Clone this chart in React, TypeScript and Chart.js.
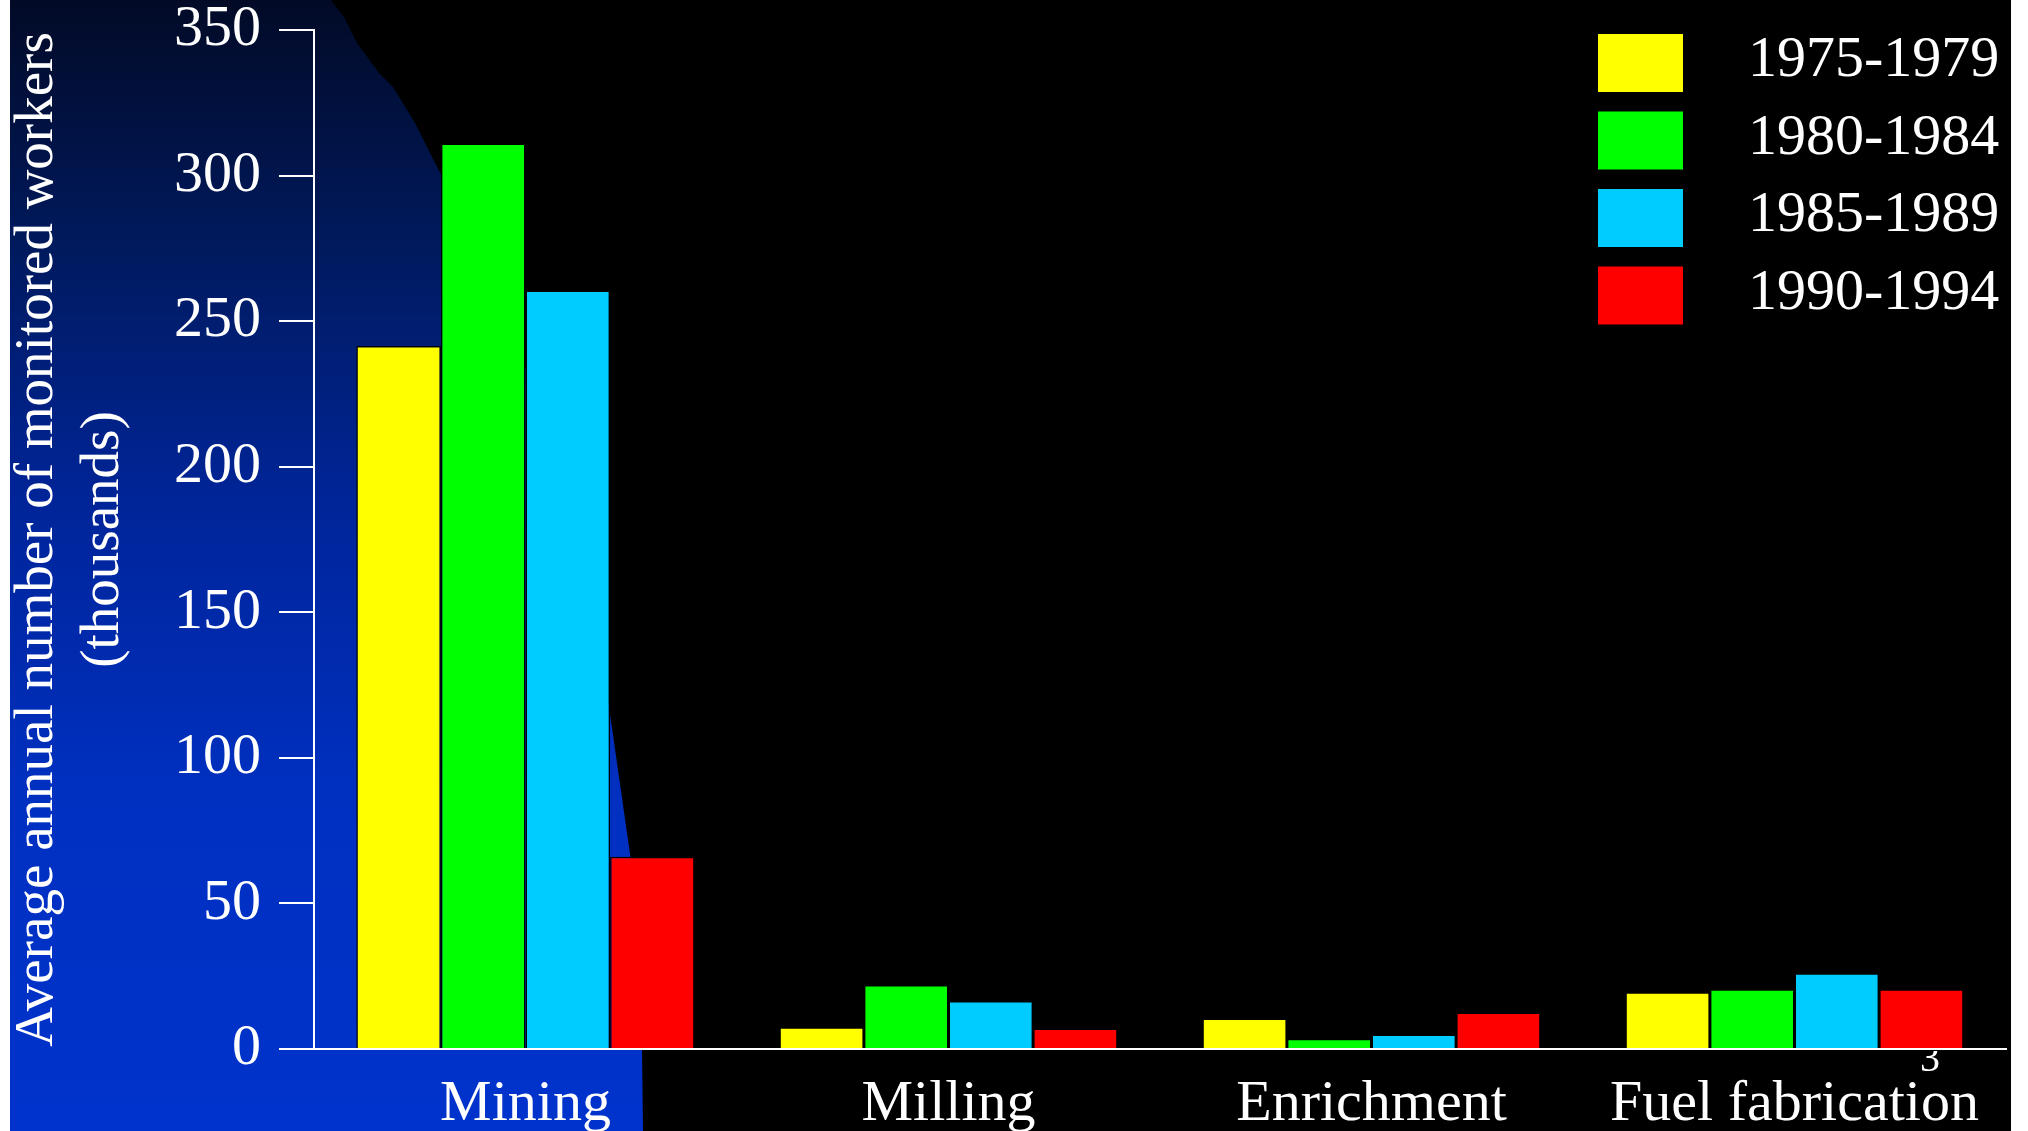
import React, { useEffect, useRef } from "react";
import { Chart, registerables } from "chart.js";

Chart.register(...registerables);

// Fuel-cycle stages along the x axis
const stages = ["Mining", "Milling", "Enrichment", "Fuel fabrication"];

// Five-year periods (one series each)
const periods = ["1975-1979", "1980-1984", "1985-1989", "1990-1994"];
const periodColors = ["#FFFF00", "#00FF00", "#00CCFF", "#FF0000"];

// Average annual number of monitored workers, thousands
const workers1975 = [241.5, 7.5, 10.5, 19.5];
const workers1980 = [311, 22, 3.5, 20.5];
const workers1985 = [260.5, 16.5, 5, 26];
const workers1990 = [66, 7, 12.5, 20.5];

const yTitle = ["Average annual number of monitored workers", "(thousands)"];
const slideNumber = "3";

const SERIF = "'Liberation Serif', 'Times New Roman', serif";

// Slide backdrop: black field with a blue gradient panel on the left
const backdrop = {
  id: "backdrop",
  beforeDraw(chart: any) {
    const { ctx, width, height } = chart;
    ctx.save();
    ctx.fillStyle = "#000000";
    ctx.fillRect(0, 0, width, height);

    const g = ctx.createLinearGradient(0, 0, 0, height);
    g.addColorStop(0, "#020a26");
    g.addColorStop(0.22, "#001a5e");
    g.addColorStop(0.45, "#00259a");
    g.addColorStop(0.7, "#0030c0");
    g.addColorStop(1, "#0033cc");
    ctx.fillStyle = g;
    ctx.beginPath();
    ctx.moveTo(10, 0);
    ctx.lineTo(331, 0);
    ctx.lineTo(344, 17);
    ctx.lineTo(357, 43);
    ctx.lineTo(379, 73);
    ctx.lineTo(393, 87);
    ctx.lineTo(415, 123);
    ctx.lineTo(435, 163);
    ctx.quadraticCurveTo(562, 394, 611, 721);
    ctx.lineTo(630, 854);
    ctx.lineTo(642, 1049);
    ctx.lineTo(643, height);
    ctx.lineTo(10, height);
    ctx.closePath();
    ctx.fill();

    ctx.fillStyle = "#ffffff";
    ctx.fillRect(0, 0, 10, height);
    ctx.fillRect(2011, 0, width - 2011, height);
    ctx.restore();
  },
};

// Legend in the upper right and the slide number under the axis
const slideLegend = {
  id: "slideLegend",
  afterDraw(chart: any) {
    const { ctx, width, height, chartArea } = chart;
    ctx.save();
    chart.data.datasets.forEach((ds: any, i: number) => {
      const top = 34 + i * 77.5;
      ctx.fillStyle = ds.backgroundColor;
      ctx.fillRect(1598, top, 85, 58);
      ctx.fillStyle = "#ffffff";
      ctx.font = `58px ${SERIF}`;
      ctx.textAlign = "left";
      ctx.textBaseline = "middle";
      ctx.fillText(ds.label, 1748, top + 27);
    });
    ctx.beginPath();
    ctx.rect(0, chartArea.bottom + 2, width, height);
    ctx.clip();
    ctx.font = `40px ${SERIF}`;
    ctx.textAlign = "center";
    ctx.textBaseline = "alphabetic";
    ctx.fillStyle = "#ffffff";
    ctx.fillText(slideNumber, 1930, 1071);
    ctx.restore();
  },
};

export default function App() {
  const canvasRef = useRef<HTMLCanvasElement | null>(null);

  useEffect(() => {
    const canvas = canvasRef.current;
    if (!canvas) return;
    const series = [workers1975, workers1980, workers1985, workers1990];
    const chart = new Chart(canvas, {
      type: "bar",
      data: {
        labels: stages,
        datasets: periods.map((p, i) => ({
          label: p,
          data: series[i],
          backgroundColor: periodColors[i],
          borderColor: "#000000",
          borderWidth: 1.5,
          categoryPercentage: 0.8,
          barPercentage: 1.0,
        })),
      },
      options: {
        responsive: false,
        animation: false,
        layout: { padding: { top: 30, right: 22, left: 0, bottom: 0 } },
        plugins: {
          legend: { display: false },
          tooltip: { enabled: false },
        },
        scales: {
          x: {
            type: "category",
            grid: { display: false, drawTicks: false },
            border: { display: true, color: "#ffffff", width: 2 },
            ticks: {
              color: "#ffffff",
              padding: 21,
              font: { family: SERIF, size: 58, lineHeight: 1.2 },
              maxRotation: 0,
              autoSkip: false,
            },
            afterFit: (scale: any) => {
              scale.height = 82;
              scale.paddingLeft = 0;
              scale.paddingRight = 0;
            },
          },
          y: {
            min: 0,
            max: 350,
            grid: {
              drawOnChartArea: false,
              drawTicks: true,
              tickLength: 35,
              color: "#ffffff",
              lineWidth: 2,
            },
            border: { display: true, color: "#ffffff", width: 2 },
            ticks: {
              stepSize: 50,
              color: "#ffffff",
              padding: 18,
              font: { family: SERIF, size: 58, lineHeight: 1 },
            },
            title: {
              display: true,
              text: yTitle,
              color: "#ffffff",
              font: { family: SERIF, size: 55, lineHeight: 1.2 },
              padding: { top: 5, bottom: 0 },
            },
            afterFit: (scale: any) => {
              scale.width = 314;
              scale.paddingTop = 0;
              scale.paddingBottom = 0;
            },
          },
        },
      },
      plugins: [backdrop, slideLegend],
    });
    return () => chart.destroy();
  }, []);

  return (
    <div style={{ position: "fixed", left: 0, top: 0, width: 2028, height: 1131, background: "#000" }}>
      <canvas ref={canvasRef} width={2028} height={1131} style={{ display: "block" }} />
    </div>
  );
}
